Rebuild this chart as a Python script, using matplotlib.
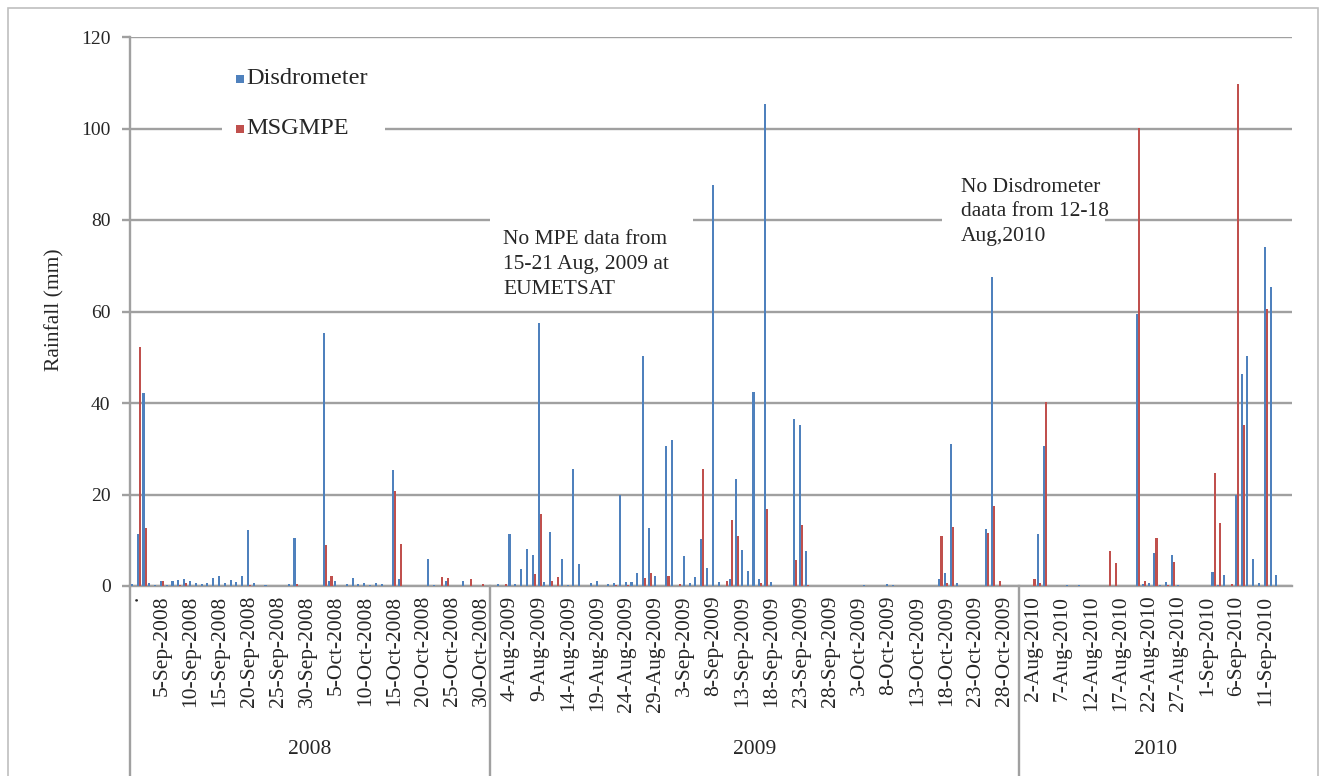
import matplotlib
matplotlib.use("Agg")
import matplotlib.pyplot as plt
from matplotlib.patches import Rectangle
import numpy as np
import pandas as pd

# ---------------------------------------------------------------------------
# Data (daily rainfall, mm)
# ---------------------------------------------------------------------------

years = ["2008", "2009", "2010"]
# first 2008 row in the source sheet is a stray "." entry
dates_2008 = pd.date_range("2008-09-01", "2008-10-31")
dates_2009 = pd.date_range("2009-08-01", "2009-10-30")
dates_2010 = pd.date_range("2010-07-31", "2010-09-15")

disdrometer_2008 = [
    0.5, 11.4, 42.2, 0.6, 0.2, 1.0, 0.2, 1.1, 1.3, 1.5,
    1.1, 0.6, 0.5, 0.6, 1.7, 2.1, 0.6, 1.3, 0.9, 2.2,
    12.3, 0.6, 0, 0.2, 0, 0.1, 0.1, 0.5, 10.6, 0,
    0, 0, 0, 55.3, 1.2, 1.2, 0, 0.5, 1.7, 0.4,
    0.7, 0.2, 0.6, 0.4, 0, 25.4, 1.5, 0, 0, 0,
    0.1, 5.9, 0.2, 0, 1.1, 0, 0, 1.2, 0, 0,
    0, 0.1,
]
msgmpe_2008 = [
    0, 52.2, 12.6, 0, 0, 1.0, 0, 0, 0.2, 0.6,
    0, 0, 0, 0, 0, 0, 0, 0, 0, 0,
    0.3, 0, 0, 0, 0, 0, 0, 0, 0.4, 0,
    0, 0, 0, 8.9, 2.1, 0, 0, 0, 0, 0,
    0, 0, 0, 0, 0, 20.7, 9.2, 0, 0, 0,
    0, 0, 0, 2.0, 1.7, 0, 0, 0, 1.5, 0,
    0.5, 0,
]

disdrometer_2009 = [
    0, 0.5, 0, 11.4, 0.5, 3.7, 8.1, 6.8, 57.4, 0.9,
    11.7, 0, 5.9, 0.3, 25.6, 4.7, 0, 0.7, 1.2, 0,
    0.5, 0.7, 19.9, 0.9, 0.9, 2.8, 50.2, 12.6, 2.2, 0.1,
    30.7, 31.9, 0.1, 6.6, 0.6, 2.0, 10.3, 3.9, 87.6, 0.9,
    0, 1.5, 23.4, 7.9, 3.2, 42.4, 1.5, 105.3, 0.8, 0,
    0, 0, 36.4, 35.2, 7.7, 0, 0, 0, 0, 0,
    0, 0, 0, 0, 0.15, 0, 0, 0, 0.4, 0.15,
    0, 0, 0, 0, 0, 0, 0, 1.5, 2.8, 31.1,
    0.6, 0, 0, 0, 0, 12.5, 67.5, 0, 0, 0,
    0,
]
msgmpe_2009 = [
    0, 0, 0.4, 0, 0.1, 0, 0, 2.6, 15.7, 0,
    1.1, 1.9, 0, 0, 0, 0, 0, 0, 0, 0,
    0, 0.2, 0, 0.2, 0, 0, 1.7, 2.9, 0, 0,
    2.1, 0, 0.4, 0, 0, 0, 25.6, 0, 0, 0,
    1.1, 14.4, 11.0, 0, 0, 0, 0.7, 16.8, 0, 0,
    0, 0, 5.7, 13.3, 0.3, 0, 0, 0, 0, 0,
    0, 0, 0, 0, 0, 0, 0, 0, 0, 0,
    0, 0, 0, 0, 0, 0, 0, 10.9, 0.7, 13.0,
    0, 0, 0, 0, 0, 11.5, 17.5, 1.1, 0, 0,
    0,
]

disdrometer_2010 = [
    0, 0, 0, 11.3, 30.7, 0.1, 0, 0, 0.15, 0,
    0.15, 0, 0, 0, 0, 0, 0, 0, 0, 0,
    59.4, 0.4, 0.7, 7.3, 0.3, 0.9, 6.8, 0.15, 0, 0,
    0.1, 0, 0, 3.0, 0.3, 2.5, 0.1, 19.9, 46.3, 50.3,
    6.0, 0.6, 74.0, 65.3, 2.5, 0, 0,
]
msgmpe_2010 = [
    0, 0, 1.5, 0.6, 40.3, 0, 0, 0, 0, 0,
    0, 0, 0, 0, 0.1, 7.6, 5.1, 0, 0, 0,
    100.2, 1.2, 0, 10.6, 0, 0.15, 5.3, 0, 0, 0,
    0, 0, 0, 24.8, 13.7, 0, 0.4, 109.8, 35.2, 0,
    0, 0, 60.5, 0.1, 0, 0, 0,
]

tick_labels = [
    ".", "5-Sep-2008", "10-Sep-2008", "15-Sep-2008", "20-Sep-2008",
    "25-Sep-2008", "30-Sep-2008", "5-Oct-2008", "10-Oct-2008",
    "15-Oct-2008", "20-Oct-2008", "25-Oct-2008", "30-Oct-2008",
    "4-Aug-2009", "9-Aug-2009", "14-Aug-2009", "19-Aug-2009",
    "24-Aug-2009", "29-Aug-2009", "3-Sep-2009", "8-Sep-2009",
    "13-Sep-2009", "18-Sep-2009", "23-Sep-2009", "28-Sep-2009",
    "3-Oct-2009", "8-Oct-2009", "13-Oct-2009", "18-Oct-2009",
    "23-Oct-2009", "28-Oct-2009",
    "2-Aug-2010", "7-Aug-2010", "12-Aug-2010", "17-Aug-2010",
    "22-Aug-2010", "27-Aug-2010", "1-Sep-2010", "6-Sep-2010",
    "11-Sep-2010",
]

note_mpe = "No MPE data from\n15-21 Aug, 2009 at\nEUMETSAT"
note_dis = "No Disdrometer\ndaata from 12-18\nAug,2010"

# ---------------------------------------------------------------------------
# Assemble categories
# ---------------------------------------------------------------------------


def fmt(d):
    return f"{d.day}-{d.strftime('%b-%Y')}"


groups = [
    ["."] + [fmt(d) for d in dates_2008],
    [fmt(d) for d in dates_2009],
    [fmt(d) for d in dates_2010],
]
categories = [c for g in groups for c in g]
disdrometer = disdrometer_2008 + disdrometer_2009 + disdrometer_2010
msgmpe = msgmpe_2008 + msgmpe_2009 + msgmpe_2010
n = len(categories)
x = np.arange(n)

# ---------------------------------------------------------------------------
# Plot
# ---------------------------------------------------------------------------

plt.rcParams["font.family"] = ["Liberation Serif", "DejaVu Serif"]
W, H = 1327, 776
GRAY = "#a0a0a0"
TXT = "#262626"
BLUE = "#4f81bd"
RED = "#c0504d"

fig = plt.figure(figsize=(W / 100, H / 100), dpi=100)
ax = fig.add_axes([130 / W, 1 - 586 / H, 1162 / W, 549 / H])

bw = 0.36
ax.bar(x - bw / 2, disdrometer, bw, color=BLUE, zorder=3, linewidth=0)
ax.bar(x + bw / 2, msgmpe, bw, color=RED, zorder=3, linewidth=0)

ax.set_xlim(-0.5, n - 0.5)
ax.set_ylim(0, 120)
ax.set_yticks(range(0, 121, 20))
ax.yaxis.grid(True, color=GRAY, linewidth=1.7)
ax.set_axisbelow(True)
for side in ("top", "right"):
    ax.spines[side].set_visible(False)
for side in ("left", "bottom"):
    ax.spines[side].set_color(GRAY)
    ax.spines[side].set_linewidth(1.7)
ax.tick_params(axis="y", length=6, width=1.7, color=GRAY, labelsize=14,
               pad=8, labelcolor=TXT)
ax.set_ylabel("Rainfall (mm)", fontsize=15.5, color=TXT)
ax.yaxis.set_label_coords(-0.056, 0.503)

tick_idx = [categories.index(t) for t in tick_labels]
ax.set_xticks(tick_idx)
ax.set_xticklabels(tick_labels, rotation=90, fontsize=15.5, color=TXT)
ax.tick_params(axis="x", length=0, pad=7)

# multi-level axis: group separators and year labels
xtr = ax.get_xaxis_transform()
edges = np.cumsum([0] + [len(g) for g in groups]) - 0.5
for e in edges[:-1]:
    ax.plot([e, e], [0, -0.36], transform=xtr, color=GRAY, lw=1.7,
            clip_on=False, zorder=2)
for yr, a, b in zip(years, edges[:-1], edges[1:]):
    ax.text((a + b) / 2, -0.2987, yr, transform=xtr, ha="center",
            va="center", fontsize=15.5, color=TXT)


def fx(px):
    return px / W


def fy(py):
    return 1 - py / H


# legend (white box over gridline)
ax.add_patch(Rectangle((fx(222), fy(155)), 163 / W, 100 / H,
                       transform=fig.transFigure, facecolor="white",
                       edgecolor="none", zorder=2, clip_on=False))
for label, color, py in [("Disdrometer", BLUE, 79), ("MSGMPE", RED, 129)]:
    ax.add_patch(Rectangle((fx(236), fy(py + 4)), 8 / W, 8 / H,
                           transform=fig.transFigure, facecolor=color,
                           edgecolor="none", zorder=4, clip_on=False))
    fig.text(fx(246), fy(py), label, fontsize=17.5, va="center", color=TXT)

# annotations
for text, bx, by, bw_, bh, tx, ty in [
    (note_mpe, 490, 206, 203, 96, 503, 240),
    (note_dis, 942, 170, 163, 80, 961, 187),
]:
    ax.add_patch(Rectangle((fx(bx), fy(by + bh)), bw_ / W, bh / H,
                           transform=fig.transFigure, facecolor="white",
                           edgecolor="none", zorder=2, clip_on=False))
    for k, line in enumerate(text.split("\n")):
        fig.text(fx(tx), fy(ty + k * 24.5), line, fontsize=15.5,
                 va="center", color=TXT)

# chart area border
fig.patches.append(Rectangle((fx(8), fy(790)), 1310 / W, 782 / H,
                             transform=fig.transFigure, fill=False,
                             edgecolor="#bfbfbf", linewidth=1.2))

fig.savefig("out.png", dpi=100)
